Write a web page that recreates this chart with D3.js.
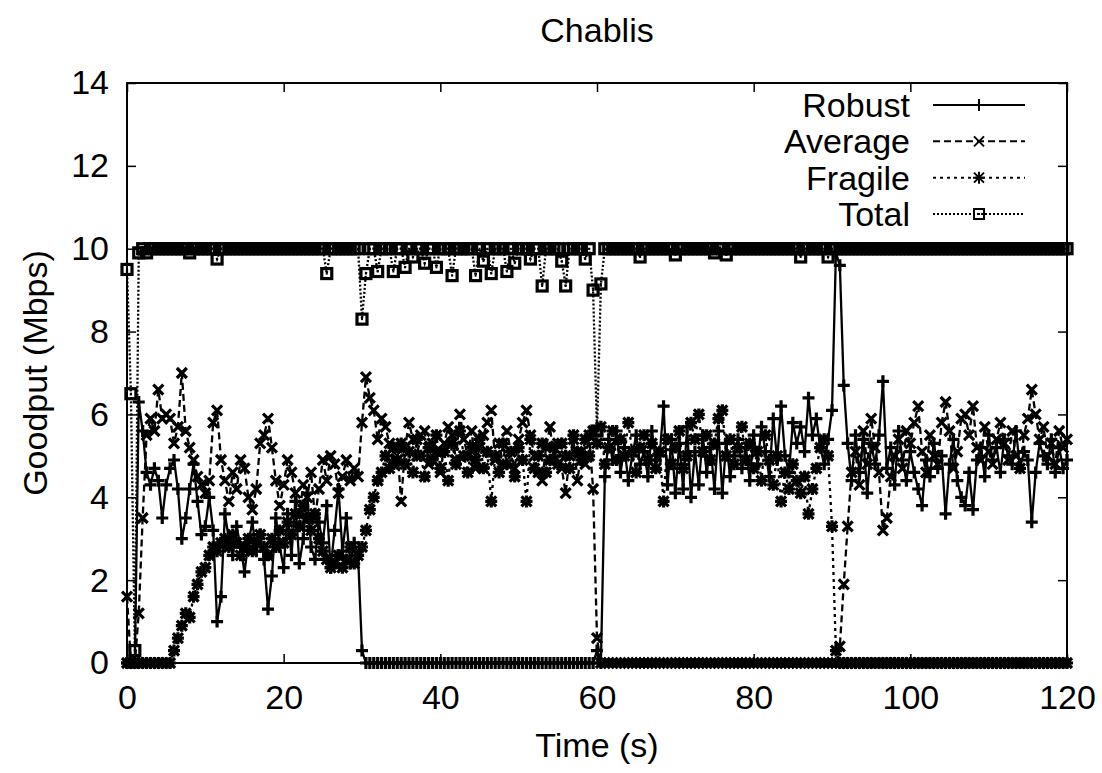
<!DOCTYPE html>
<html>
<head>
<meta charset="utf-8">
<script src="https://cdn.jsdelivr.net/npm/d3@7"></script>
<style>
body { margin: 0; background: #fff; }
text { font-family: "Liberation Sans", Arial, Helvetica, sans-serif; fill: #000; }
</style>
</head>
<body>
<div id="chart"></div>
<script>
/* data, one value every 0.5 s */
var times = d3.range(0, 120.25, 0.5);

var robust = [
	0, 0, 0, 6.3, 5.6, 4.6, 4.3, 4.7, 4.4, 3.5,
	4.3, 4.7, 4.9, 4.2, 3.0, 3.5, 4.2, 4.8, 3.9, 3.1,
	3.3, 4.0, 3.2, 1.0, 1.6, 3.6, 3.0, 2.6, 3.3, 2.8,
	2.2, 2.9, 3.4, 2.7, 3.1, 2.5, 1.3, 2.1, 3.5, 2.8,
	2.3, 3.6, 2.6, 3.9, 2.4, 3.0, 4.1, 2.8, 2.5, 3.4,
	2.9, 3.8, 2.3, 3.2, 4.2, 2.7, 3.5, 2.4, 2.9, 2.6,
	0.3, 0, 0, 0, 0, 0, 0, 0, 0, 0,
	0, 0, 0, 0, 0, 0, 0, 0, 0, 0,
	0, 0, 0, 0, 0, 0, 0, 0, 0, 0,
	0, 0, 0, 0, 0, 0, 0, 0, 0, 0,
	0, 0, 0, 0, 0, 0, 0, 0, 0, 0,
	0, 0, 0, 0, 0, 0, 0, 0, 0, 0,
	0.3, 0, 4.5, 5.4, 4.9, 5.6, 4.6, 5.2, 4.4, 5.0,
	5.5, 4.8, 5.1, 4.5, 5.6, 4.9, 5.0, 6.2, 4.3, 5.4,
	4.1, 5.3, 4.2, 5.7, 4.0, 5.1, 4.3, 5.5, 4.6, 5.2,
	4.2, 5.6, 4.1, 5.3, 4.5, 5.0, 5.4, 4.7, 5.2, 4.4,
	5.5, 4.8, 5.7, 5.1, 4.5, 5.9, 4.9, 6.2, 5.0, 4.6,
	5.8, 5.3, 5.7, 5.1, 6.4, 5.5, 5.9, 5.2, 4.8, 5.4,
	6.1, 9.9, 9.6, 6.7, 5.3, 4.4, 5.5, 4.6, 5.4, 4.1,
	5.3, 4.8, 5.5, 6.8, 4.7, 5.2, 4.3, 5.6, 4.9, 4.4,
	5.1, 4.6, 4.2, 3.8, 4.9, 4.5, 5.3, 4.7, 5.0, 3.6,
	4.8, 5.4, 4.4, 4.0, 3.8, 4.6, 3.7, 4.9, 5.2, 4.5,
	5.5, 4.9, 5.2, 4.6, 5.4, 5.0, 4.8, 5.6, 4.7, 5.1,
	4.9, 3.4, 4.6, 5.3, 5.0, 4.8, 5.4, 4.6, 5.2, 4.7,
	4.9
];

var average = [
	1.6, 0, 0, 1.2, 3.5, 5.5, 5.9, 5.6, 6.6, 5.9,
	6.0, 5.9, 5.3, 5.7, 7.0, 5.6, 5.2, 4.9, 4.5, 4.3,
	4.1, 4.4, 5.8, 6.1, 4.9, 4.4, 3.9, 4.6, 4.2, 4.9,
	4.7, 4.0, 3.7, 4.2, 5.3, 5.5, 5.9, 5.2, 4.4, 3.8,
	4.3, 4.9, 4.6, 4.1, 3.6, 4.3, 4.0, 4.6, 3.5, 4.2,
	4.9, 4.4, 5.0, 4.8, 4.1, 4.5, 4.9, 4.4, 4.7, 4.5,
	5.8, 6.9, 6.4, 6.1, 5.4, 5.9, 5.7, 5.3, 4.8, 5.2,
	3.9, 5.2, 5.8, 5.4, 5.0, 5.5, 5.6, 4.8, 5.3, 5.1,
	4.6, 5.3, 5.7, 5.5, 4.9, 6.0, 5.4, 5.0, 5.6, 4.7,
	5.2, 5.5, 5.8, 6.1, 4.9, 5.3, 4.8, 5.6, 5.1, 4.7,
	5.4, 5.8, 6.1, 5.5, 5.0, 4.6, 4.4, 5.2, 5.7, 4.9,
	5.3, 4.7, 4.1, 5.0, 5.4, 4.4, 5.1, 4.8, 5.5, 4.2,
	0.6, 0, 0, 0, 0, 0, 0, 0, 0, 0,
	0, 0, 0, 0, 0, 0, 0, 0, 0, 0,
	0, 0, 0, 0, 0, 0, 0, 0, 0, 0,
	0, 0, 0, 0, 0, 0, 0, 0, 0, 0,
	0, 0, 0, 0, 0, 0, 0, 0, 0, 0,
	0, 0, 0, 0, 0, 0, 0, 0, 0, 0,
	0, 0, 0.4, 1.9, 3.3, 4.6, 5.1, 4.3, 5.6, 4.8,
	5.9, 5.2, 4.6, 3.2, 3.5, 4.5, 5.0, 5.4, 4.7, 5.6,
	5.3, 5.8, 6.2, 5.1, 4.6, 5.5, 5.0, 4.8, 5.8, 6.3,
	5.6, 4.7, 5.1, 5.9, 6.0, 5.5, 6.2, 5.2, 4.9, 5.7,
	5.1, 4.8, 5.4, 5.8, 5.3, 4.9, 5.6, 5.0, 4.7, 5.5,
	5.9, 6.6, 6.0, 5.4, 5.7, 5.0, 5.3, 4.8, 5.6, 5.2,
	5.4
];

var fragile = [
	0, 0, 0, 0, 0, 0, 0, 0, 0, 0,
	0, 0, 0.3, 0.6, 0.9, 1.2, 1.1, 1.6, 1.9, 2.2,
	2.3, 2.6, 2.8, 2.7, 2.9, 3.0, 2.8, 3.1, 2.9, 2.6,
	2.8, 3.0, 2.7, 2.9, 3.1, 2.8, 2.6, 3.0, 2.8, 3.2,
	2.9, 3.4, 3.1, 3.6, 3.3, 3.8, 3.5, 3.2, 3.6, 3.0,
	2.7, 2.5, 2.3, 2.4, 2.6, 2.3, 2.5, 2.8, 2.4, 2.6,
	2.8, 3.2, 3.7, 4.0, 4.4, 4.6, 5.0, 4.7, 5.2, 4.9,
	5.3, 4.8, 5.1, 4.6, 5.4, 5.0, 4.5, 5.2, 4.9, 5.5,
	4.7, 5.1, 4.4, 5.3, 4.8, 5.6, 5.0, 4.6, 5.2, 4.9,
	5.4, 4.7, 5.1, 3.9, 5.0, 4.6, 5.3, 4.8, 5.1, 4.5,
	5.2, 4.9, 3.9, 5.4, 4.7, 5.0, 5.3, 4.6, 4.9, 5.2,
	4.8, 5.3, 5.0, 4.7, 5.5, 5.1, 4.9, 5.4, 5.0, 5.6,
	5.3, 5.7, 4.8, 5.2, 5.6, 4.9, 5.4, 5.0, 5.8, 5.1,
	4.6, 5.2, 5.5, 4.9, 5.3, 4.7, 5.1, 3.9, 5.4, 4.8,
	5.2, 5.6, 4.7, 5.0, 5.8, 5.4, 6.0, 5.1, 5.5, 4.9,
	5.3, 5.9, 6.1, 5.0, 5.4, 4.8, 5.2, 5.7, 4.9, 5.3,
	4.7, 5.1, 4.4, 5.5, 4.9, 4.3, 5.0, 3.9, 4.6, 4.2,
	4.8, 4.4, 4.1, 4.5, 3.6, 4.2, 4.7, 5.2, 5.4, 5.0,
	3.3, 0.3, 0, 0, 0, 0, 0, 0, 0, 0,
	0, 0, 0, 0, 0, 0, 0, 0, 0, 0,
	0, 0, 0, 0, 0, 0, 0, 0, 0, 0,
	0, 0, 0, 0, 0, 0, 0, 0, 0, 0,
	0, 0, 0, 0, 0, 0, 0, 0, 0, 0,
	0, 0, 0, 0, 0, 0, 0, 0, 0, 0,
	0
];

var total = [
	9.5, 6.5, 0.3, 9.9, 10, 9.9, 10, 10, 10, 10,
	10, 10, 10, 10, 10, 10, 9.9, 10, 10, 10,
	10, 10, 10, 9.75, 10, 10, 10, 10, 10, 10,
	10, 10, 10, 10, 10, 10, 10, 10, 10, 10,
	10, 10, 10, 10, 10, 10, 10, 10, 10, 10,
	10, 9.4, 10, 10, 10, 10, 10, 10, 10, 10,
	8.3, 9.4, 10, 10, 9.45, 10, 10, 10, 9.45, 10,
	10, 9.55, 10, 9.8, 10, 10, 9.65, 10, 10, 9.55,
	10, 10, 10, 9.35, 10, 10, 10, 10, 10, 9.35,
	10, 9.7, 10, 9.4, 10, 10, 10, 9.45, 10, 9.65,
	10, 10, 10, 9.75, 10, 10, 9.1, 10, 10, 10,
	10, 9.7, 9.1, 10, 10, 10, 10, 9.75, 10, 9.0,
	5.6, 9.15, 10, 10, 10, 10, 10, 10, 10, 10,
	10, 9.8, 10, 10, 10, 10, 10, 10, 10, 10,
	9.85, 10, 10, 10, 10, 10, 10, 10, 10, 10,
	9.9, 10, 10, 9.85, 10, 10, 10, 10, 10, 10,
	10, 10, 10, 10, 10, 10, 10, 10, 10, 10,
	10, 10, 9.8, 10, 10, 10, 10, 10, 10, 9.8,
	10, 10, 10, 10, 10, 10, 10, 10, 10, 10,
	10, 10, 10, 10, 10, 10, 10, 10, 10, 10,
	10, 10, 10, 10, 10, 10, 10, 10, 10, 10,
	10, 10, 10, 10, 10, 10, 10, 10, 10, 10,
	10, 10, 10, 10, 10, 10, 10, 10, 10, 10,
	10, 10, 10, 10, 10, 10, 10, 10, 10, 10,
	10
];

var seriesNames = ["Robust", "Average", "Fragile", "Total"];
var xTicks = [0, 20, 40, 60, 80, 100, 120];
var yTicks = [0, 2, 4, 6, 8, 10, 12, 14];

/* layout (names avoid window.top) */
var width = 1102, height = 773;
var plotLeft = 127, plotRight = 1067, plotTop = 83, plotBottom = 663;
var fontSize = 34;

var svg = d3.select("#chart").append("svg")
	.attr("width", width).attr("height", height);

var x = d3.scaleLinear().domain([0, 120]).range([plotLeft, plotRight]);
var y = d3.scaleLinear().domain([0, 14]).range([plotBottom, plotTop]);

/* marker shapes, gnuplot style */
var plusPath = "M-6,0H6M0,-6V6";
var crossPath = "M-5,-5L5,5M-5,5L5,-5";
var styles = [
	{ values: robust, dash: null, marker: plusPath },
	{ values: average, dash: "7,4", marker: crossPath },
	{ values: fragile, dash: "3,4", marker: plusPath + crossPath },
	{ values: total, dash: "2,2", marker: "square" }
];

function drawMarker(sel, s, w) {
	if (s.marker == "square") {
		sel.append("rect")
			.attr("x", -5).attr("y", -5).attr("width", 10).attr("height", 10)
			.attr("fill", "none").attr("stroke", "#000").attr("stroke-width", w);
		sel.append("rect")
			.attr("x", -1).attr("y", -1).attr("width", 2).attr("height", 2)
			.attr("fill", "#000");
	} else {
		sel.append("path")
			.attr("d", s.marker)
			.attr("stroke", "#000")
			.attr("stroke-width", w)
			.attr("fill", "none");
	}
}

/* axes: ticks inward, mirrored on top/right */
var tickLen = 9;
svg.append("g")
	.attr("transform", "translate(0," + plotBottom + ")")
	.call(d3.axisBottom(x).tickValues(xTicks).tickSizeInner(-tickLen).tickSizeOuter(0).tickPadding(22))
	.call(function(g) { g.select(".domain").remove(); });
svg.append("g")
	.attr("transform", "translate(0," + plotTop + ")")
	.call(d3.axisTop(x).tickValues(xTicks).tickSizeInner(-tickLen).tickSizeOuter(0).tickFormat(""))
	.call(function(g) { g.select(".domain").remove(); });
svg.append("g")
	.attr("transform", "translate(" + plotLeft + ",0)")
	.call(d3.axisLeft(y).tickValues(yTicks).tickSizeInner(-tickLen).tickSizeOuter(0).tickPadding(18))
	.call(function(g) { g.select(".domain").remove(); });
svg.append("g")
	.attr("transform", "translate(" + plotRight + ",0)")
	.call(d3.axisRight(y).tickValues(yTicks).tickSizeInner(-tickLen).tickSizeOuter(0).tickFormat(""))
	.call(function(g) { g.select(".domain").remove(); });

svg.selectAll(".tick line").attr("stroke", "#000").attr("stroke-width", 1.5);
svg.selectAll(".tick text")
	.style("font-size", fontSize + "px")
	.style("font-family", "'Liberation Sans', Arial, sans-serif");

/* data */
var line = d3.line()
	.x(function(d, i) { return x(times[i]); })
	.y(function(d) { return y(d); });

var plot = svg.append("g").attr("class", "series");

styles.forEach(function(s) {
	var g = plot.append("g");
	g.append("path")
		.attr("d", line(s.values))
		.attr("fill", "none")
		.attr("stroke", "#000")
		.attr("stroke-width", 2.3)
		.attr("stroke-dasharray", s.dash);

	var pts = g.selectAll(".pt")
		.data(s.values)
		.enter().append("g")
		.attr("class", "pt")
		.attr("transform", function(d, i) { return "translate(" + x(times[i]) + "," + y(d) + ")"; });
	drawMarker(pts, s, 3.2);
});

/* border */
svg.append("rect")
	.attr("x", plotLeft).attr("y", plotTop)
	.attr("width", plotRight - plotLeft).attr("height", plotBottom - plotTop)
	.attr("fill", "none").attr("stroke", "#000").attr("stroke-width", 2);

/* legend */
var legend = svg.append("g").attr("class", "legend");
var legendY = d3.scalePoint().domain(seriesNames).range([105, 214]);
seriesNames.forEach(function(name, i) {
	var ly = legendY(name);
	var s = styles[i];
	legend.append("text")
		.attr("x", 910).attr("y", ly)
		.attr("dy", "0.35em")
		.attr("text-anchor", "end")
		.style("font-size", fontSize + "px")
		.text(name);
	legend.append("line")
		.attr("x1", 933).attr("x2", 1025)
		.attr("y1", ly).attr("y2", ly)
		.attr("stroke", "#000").attr("stroke-width", 2)
		.attr("stroke-dasharray", s.dash);
	var m = legend.append("g").attr("transform", "translate(979," + ly + ")");
	drawMarker(m, s, 2);
});

/* titles */
svg.append("text")
	.attr("x", (plotLeft + plotRight) / 2).attr("y", 30)
	.attr("dy", "0.35em")
	.attr("text-anchor", "middle")
	.style("font-size", fontSize + "px")
	.text("Chablis");

svg.append("text")
	.attr("x", (plotLeft + plotRight) / 2).attr("y", 745)
	.attr("dy", "0.35em")
	.attr("text-anchor", "middle")
	.style("font-size", fontSize + "px")
	.text("Time (s)");

svg.append("text")
	.attr("transform", "translate(35," + (plotTop + plotBottom) / 2 + ") rotate(-90)")
	.attr("dy", "0.35em")
	.attr("text-anchor", "middle")
	.style("font-size", fontSize + "px")
	.text("Goodput (Mbps)");
</script>
</body>
</html>
